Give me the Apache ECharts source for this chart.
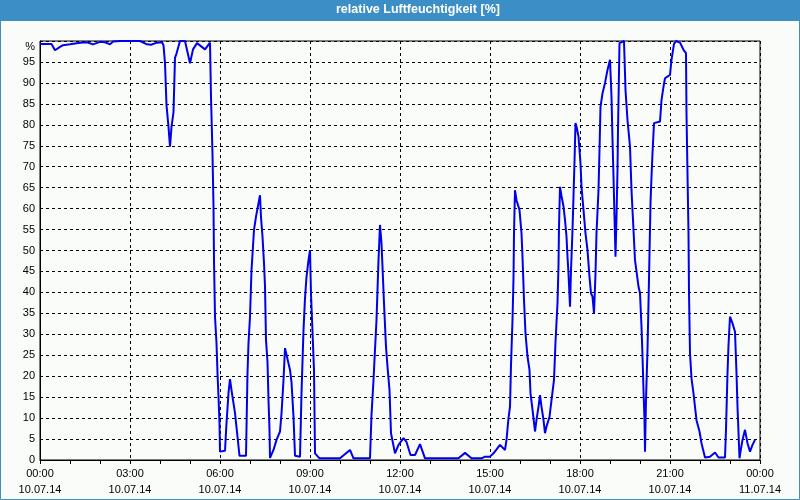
<!DOCTYPE html>
<html>
<head>
<meta charset="utf-8">
<script src="https://cdn.jsdelivr.net/npm/echarts@6/dist/echarts.min.js"></script>
<style>
html,body{margin:0;padding:0;background:#fafcfa;}
#chart{width:800px;height:500px;}
</style>
</head>
<body>
<div id="chart"></div>
<script>
// time of day in minutes since 10.07.14 00:00
const minutes = [
0,23,30,40,46,60,80,94,106,120,130,140,146,160,180,200,214,222,234,244,247,250,253,257,260,263,267,270,273,280,290,300,306,314,330,340,342,345,347,348,350,353,355,357,359,360,
370,373,377,380,383,390,395,399,412,415,417,420,423,428,432,437,440,442,445,448,450,452,455,457,459,460,
467,473,480,483,487,490,493,500,503,507,510,520,523,527,530,533,537,540,542,545,548,550,559,600,620,627,660,
663,667,670,673,677,680,683,685,688,692,695,699,702,710,717,727,733,741,750,760,770,837,850,863,883,890,900,907,
920,930,933,937,940,942,945,947,948,950,953,959,963,965,968,971,975,979,981,985,990,993,997,1000,1003,1007,1010,1013,1019,1023,1028,
1031,1035,1037,1038,1040,1043,1047,1050,1053,1055,1057,1060,1062,1065,1067,1069,1071,1073,1077,1081,1083,1087,1091,1095,1099,1102,1105,1108,
1111,1113,1117,1119,1121,1125,1130,1135,1140,1143,1145,1147,1149,1151,1153,1155,1156,1159,1163,1168,1171,1175,1180,1183,1187,1190,1193,1197,1200,
1203,1205,1207,1209,1210,1212,1215,1217,1219,1221,1223,1225,1228,1240,1243,1247,1250,1260,1263,1268,1272,1280,1287,1292,1293,1295,1297,1298,1300,
1303,1307,1310,1313,1319,1323,1330,1340,1350,1357,1370,1372,1375,1377,1380,1385,1390,1393,1395,1399,1401,1405,1410,1415,1420,1425,1430
];
// relative humidity [%]
const humidity = [
99.3,99.3,97.8,98.6,99,99.2,99.6,99.7,99.2,99.8,99.7,99.2,99.9,100,100,100,99.2,99.1,99.6,99.7,99,94.7,84.7,79.5,74.8,79.5,83,96,97,100,100,94.7,98,99.5,98,99.6,86.7,73,60.5,47.7,34.2,27.9,20.7,15.1,8.8,2,
2.2,8.8,16,19.3,16.7,11.2,5.6,1,1,20.7,27.9,34.2,45.3,54.9,58.1,61.3,63.2,58,53.3,47,41.4,28.6,23.4,14.3,7.2,0.5,
2.4,4.8,6.8,11.1,19.1,26.7,26.3,21.5,18.6,10.3,1,0.8,15.9,31,38.6,43.7,47.7,50.1,39.6,30.6,21.5,1.6,0.4,0.4,2.4,0.4,0.4,
10.7,19.1,26.3,33.4,47.7,56.1,51.7,46.1,37.4,27,22.3,16.7,6.4,1.6,3.6,5.2,4.3,1.2,1.2,3.8,0.4,0.4,1.7,0.4,0.4,0.8,0.8,1.6,
3.6,2.4,4.8,10,12.7,22.7,33.4,43.4,54.1,64.4,62,59.7,54.1,48.5,38.2,30.2,24.7,21.5,15.9,12,6.8,9.6,12.7,15.5,12.7,9.6,6.4,8,10.3,14.3,19.1,
28.2,37.4,46.5,55.7,65.2,63,60.5,57.3,53.3,48.5,44.5,36.6,45.3,54.9,62.9,71.2,80.4,79.6,77.2,70.8,65.2,59.7,54.1,50.1,43.7,39.8,39,35,
44.5,54.1,64.4,74,84.3,87.5,90,93.1,95.5,86.7,76.4,67.6,58,48.5,58,69.2,78.8,99.5,99.6,100,88.3,81.1,74.8,64.4,54.9,47.7,45,41.4,39.8,
31.8,24.7,16.7,9.5,2,14.3,26.3,37.4,49.3,61.3,67.6,73.2,80.4,80.8,85.9,89.1,91.1,91.9,95.5,99.3,100,99.6,97.9,97.1,82.7,68.4,54.1,39.8,25.5,
19.5,15.9,12.7,9.5,6.8,4,0.6,0.8,1.8,0.6,0.6,7.2,20.7,27.4,34.2,32.6,30.6,20.7,12.7,0.4,2,4.8,7.2,4,2,3.6,4.8
];
const xTickLabels = ['00:00\n10.07.14','03:00\n10.07.14','06:00\n10.07.14','09:00\n10.07.14','12:00\n10.07.14','15:00\n10.07.14','18:00\n10.07.14','21:00\n10.07.14','00:00\n11.07.14'];
const yTopLabel = '%';
const titleText = 'relative Luftfeuchtigkeit [%]';

const data = minutes.map((m, i) => [m, humidity[i]]);
const chart = echarts.init(document.getElementById('chart'), null, {renderer: 'canvas'});
const font = 'Liberation Sans';
chart.setOption({
  animation: false,
  backgroundColor: '#fafcfa',
  graphic: [
    {type: 'rect', z: 0, silent: true, shape: {x: 0, y: 0, width: 800, height: 21}, style: {fill: '#3c8fc6'}},
    {type: 'rect', z: 100, silent: true, shape: {x: 0.5, y: 0.5, width: 799, height: 499}, style: {fill: 'none', stroke: '#3c8fc6', lineWidth: 1}}
  ],
  title: {
    text: titleText, left: 336, top: 3, padding: 0,
    textStyle: {color: '#ffffff', fontFamily: font, fontSize: 12.5, fontWeight: 'bold'}
  },
  grid: {left: 40, right: 40, top: 41, bottom: 40, show: true, borderColor: '#000', borderWidth: 1, backgroundColor: 'transparent'},
  xAxis: {
    type: 'value', min: 0, max: 1440, interval: 180,
    axisLine: {lineStyle: {color: '#000', width: 1}},
    axisTick: {show: true, length: 4, lineStyle: {color: '#000'}},
    minorTick: {show: true, splitNumber: 3, length: 4, lineStyle: {color: '#000'}},
    splitLine: {show: true, lineStyle: {color: '#000', type: [3, 3], width: 1}},
    axisLabel: {
      color: '#000', fontFamily: font, fontSize: 11, lineHeight: 16, margin: 6,
      formatter: v => xTickLabels[Math.round(v / 180)]
    }
  },
  yAxis: {
    type: 'value', min: 0, max: 100, interval: 5,
    axisLine: {show: true, lineStyle: {color: '#000', width: 1}},
    axisTick: {show: false},
    splitLine: {show: true, lineStyle: {color: '#000', type: [3, 3], width: 1}},
    axisLabel: {
      color: '#000', fontFamily: font, fontSize: 11, margin: 5,
      formatter: v => v === 100 ? '{p|' + yTopLabel + '}' : String(v),
      rich: {p: {fontFamily: font, fontSize: 11, color: '#000', padding: [11, 0, 0, 0]}}
    }
  },
  series: [{
    type: 'line', data: data, showSymbol: false, symbol: 'none',
    lineStyle: {color: '#0000ee', width: 2}, itemStyle: {color: '#0000ee'}
  }]
});
</script>
</body>
</html>
